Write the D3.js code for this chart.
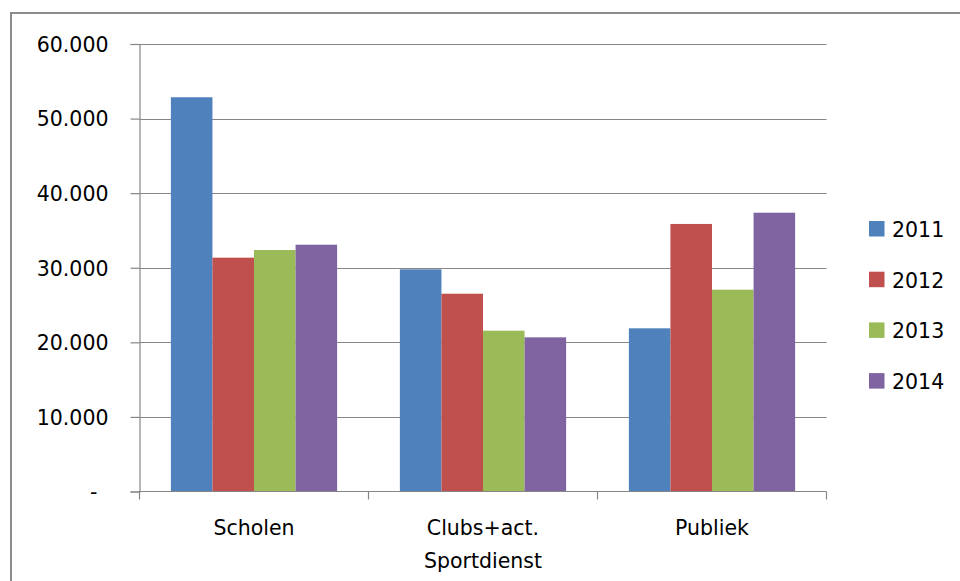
<!DOCTYPE html>
<html>
<head>
<meta charset="utf-8">
<script src="https://cdn.jsdelivr.net/npm/d3@7"></script>
<style>
  html, body { margin: 0; padding: 0; background: #fff; }
  svg { display: block; }
  text { font-family: "DejaVu Sans", sans-serif; fill: #000; }
</style>
</head>
<body>
<svg id="chart" width="960" height="581"></svg>
<script>
const categories = ["Scholen", "Clubs+act.\nSportdienst", "Publiek"];
const years = ["2011", "2012", "2013", "2014"];
const values2011 = [52860, 29790, 21880];
const values2012 = [31350, 26520, 35870];
const values2013 = [32380, 21560, 27060];
const values2014 = [33090, 20670, 37380];
const yTicks = [0, 10000, 20000, 30000, 40000, 50000, 60000];
const colors = ["#4F81BD", "#C0504D", "#9BBB59", "#8064A2"];

(function () {
const series = [values2011, values2012, values2013, values2014];
const data = categories.map((c, i) => ({
  category: c,
  values: years.map((y, j) => ({ year: y, value: series[j][i] }))
}));

const svg = d3.select("#chart");
const pLeft = 139.5, pRight = 826.5, pTop = 44, pBottom = 491.5;
const fontSize = 20.5;
const gridColor = "#868686";

// chart frame
svg.append("path")
  .attr("d", "M11,581 L11,13 L960,13")
  .attr("fill", "none")
  .attr("stroke", "#8c8c8c")
  .attr("stroke-width", 2);

const y = d3.scaleLinear().domain([0, 60000]).range([pBottom, pTop]);
const x0 = d3.scaleBand().domain(categories).range([pLeft, pRight])
  .paddingInner(0.274).paddingOuter(0.137);
const x1 = d3.scaleBand().domain(years).range([0, x0.bandwidth()]).padding(0);
const color = d3.scaleOrdinal().domain(years).range(colors);

// gridlines
svg.append("g").selectAll("line").data(yTicks.filter(d => d > 0)).join("line")
  .attr("x1", pLeft).attr("x2", pRight)
  .attr("y1", d => Math.round(y(d)) + 0.5).attr("y2", d => Math.round(y(d)) + 0.5)
  .attr("stroke", gridColor).attr("stroke-width", 1.2);

// y axis
const fmt = d => d === 0 ? "-" : d3.format(",")(d).replace(/,/g, ".");
const yAxis = d3.axisLeft(y).tickValues(yTicks).tickSize(9).tickPadding(22).tickFormat(fmt);
const gy = svg.append("g").attr("transform", `translate(${pLeft},0)`).call(yAxis);
gy.select(".domain").attr("stroke", gridColor).attr("stroke-width", 1.2);
gy.selectAll(".tick line").attr("stroke", gridColor).attr("stroke-width", 1.2);
gy.selectAll(".tick text")
  .style("font-size", fontSize + "px")
  .style("font-family", "DejaVu Sans, sans-serif")
  .attr("fill", "#000")
  .attr("dy", "0.36em")
  .attr("dx", d => d === 0 ? -11 : 0);

// bars
const groups = svg.append("g").selectAll("g").data(data).join("g")
  .attr("transform", d => `translate(${x0(d.category)},0)`);
groups.selectAll("rect").data(d => d.values).join("rect")
  .attr("x", d => x1(d.year))
  .attr("width", x1.bandwidth())
  .attr("y", d => y(d.value))
  .attr("height", d => y(0) - y(d.value))
  .attr("fill", d => color(d.year));

// x axis line and category boundary ticks
svg.append("line")
  .attr("x1", pLeft).attr("x2", pRight)
  .attr("y1", pBottom).attr("y2", pBottom)
  .attr("stroke", gridColor).attr("stroke-width", 1.2);
const step = x0.step();
const boundaries = d3.range(categories.length + 1).map(i => x0(categories[0]) - x0.paddingOuter() * step + i * step);
svg.append("g").selectAll("line").data(boundaries).join("line")
  .attr("x1", d => d).attr("x2", d => d)
  .attr("y1", pBottom).attr("y2", pBottom + 8)
  .attr("stroke", gridColor).attr("stroke-width", 1.2);

// category labels
const labels = svg.append("g").selectAll("text").data(categories).join("text")
  .attr("text-anchor", "middle")
  .style("font-size", fontSize + "px")
  .attr("x", d => x0(d) + x0.bandwidth() / 2)
  .attr("y", 535);
labels.each(function(d) {
  const lines = d.split("\n");
  const t = d3.select(this);
  lines.forEach((ln, i) => {
    t.append("tspan")
      .attr("x", x0(d) + x0.bandwidth() / 2)
      .attr("dy", i === 0 ? 0 : 32.5)
      .text(ln);
  });
});

// legend
const legend = svg.append("g").selectAll("g").data(years).join("g")
  .attr("transform", (d, i) => `translate(869,${221 + i * 50.7})`);
legend.append("rect")
  .attr("width", 15.5).attr("height", 15.5)
  .attr("fill", d => color(d));
legend.append("text")
  .attr("x", 23).attr("y", 16)
  .style("font-size", fontSize + "px")
  .text(d => d);
})();
</script>
</body>
</html>
